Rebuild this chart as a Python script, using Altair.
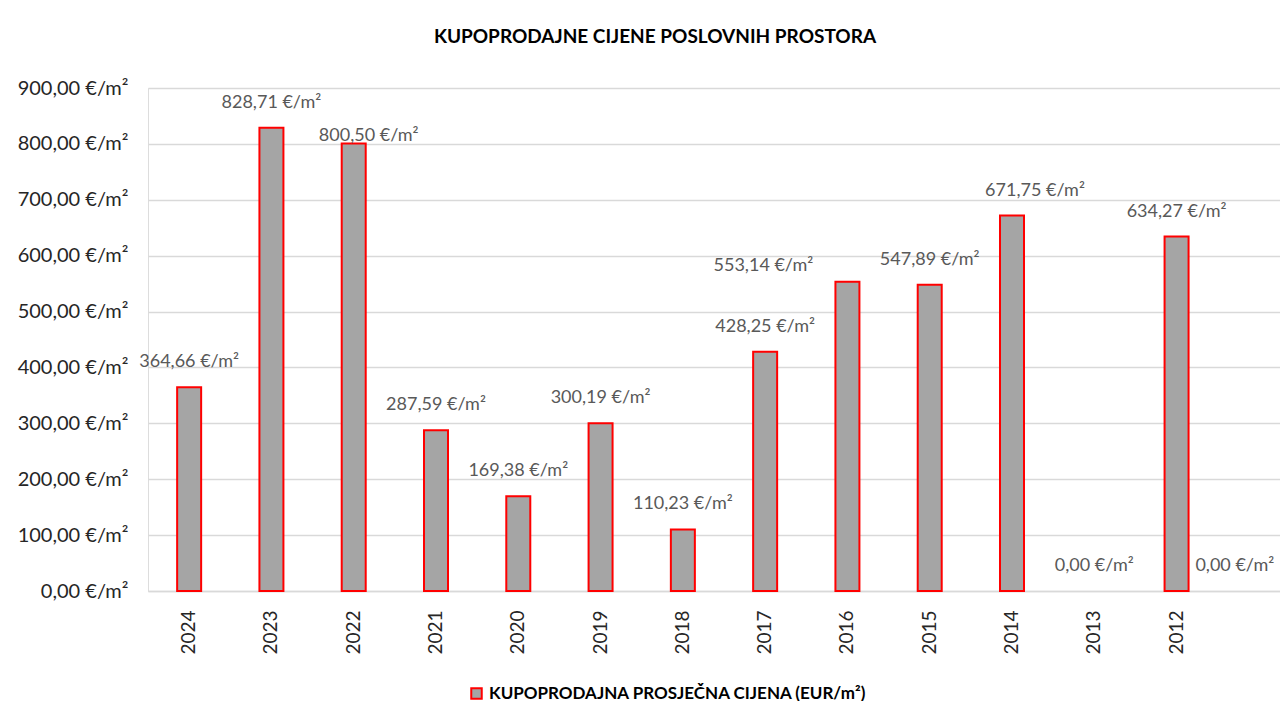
import altair as alt
import pandas as pd

years = ["2024", "2023", "2022", "2021", "2020", "2019", "2018", "2017",
         "2016", "2015", "2014", "2013", "2012", " "]
prices = [364.66, 828.71, 800.50, 287.59, 169.38, 300.19, 110.23, 428.25,
          553.14, 547.89, 671.75, 0.00, 634.27, 0.00]
series_name = "KUPOPRODAJNA PROSJEČNA CIJENA (EUR/m²)"
title_text = "KUPOPRODAJNE CIJENE POSLOVNIH PROSTORA"
y_ticks = [0, 100, 200, 300, 400, 500, 600, 700, 800, 900]

df = pd.DataFrame({"year": years, "price": prices, "series": series_name})

FONT = "Lato"
fmt_expr = "replace(format(datum.price, '.2f'), '.', ',') + ' €/m²'"

x_enc = alt.X("year:N", sort=years,
              scale=alt.Scale(domain=years, paddingInner=0, paddingOuter=0,
                              range=[0, 1152]),
              axis=alt.Axis(title=None, labelAngle=-90, labelFontSize=19,
                            labelColor="#262626", labelPadding=19, ticks=False,
                            domainColor="#d9d9d9", domainWidth=1.5, grid=False,
                            labelFont=FONT))
y_enc = alt.Y("price:Q", scale=alt.Scale(domain=[0, 900], nice=False),
              axis=alt.Axis(title=None, values=y_ticks,
                            labelExpr="replace(format(datum.value, '.2f'), '.', ',') + ' €/m²'",
                            labelFontSize=20, labelColor="#262626", labelPadding=20,
                            ticks=False, domain=False, gridColor="#d9d9d9",
                            gridWidth=1.5, labelFont=FONT))

base = alt.Chart(df)

bars = base.transform_filter("datum.price > 0").mark_bar(
    size=24, stroke="#ff0000", strokeWidth=2).encode(
    x=x_enc, y=y_enc,
    color=alt.Color("series:N", scale=alt.Scale(range=["#a5a5a5"]),
                    legend=alt.Legend(title=None, orient="none", legendX=320,
                                      legendY=597, symbolType="square",
                                      symbolSize=110, symbolStrokeColor="#ff0000",
                                      symbolStrokeWidth=2, labelFontSize=17,
                                      labelFontWeight="bold", labelColor="#000000",
                                      labelFont=FONT, labelLimit=600))
)

def label_layer(filter_expr, dx, dy):
    return base.transform_calculate(lbl=fmt_expr).transform_filter(filter_expr).mark_text(
        fontSize=18, color="#595959", baseline="middle", align="center",
        dx=dx, dy=dy, font=FONT
    ).encode(x=alt.X("year:N", sort=years), y="price:Q", text="lbl:N")

labels_main = label_layer(
    "datum.year != '2022' && datum.year != '2016' && datum.year != '2014' && datum.year != ' '", 0, -25)
labels_2022 = label_layer("datum.year == '2022'", 15, -8)
labels_2016 = label_layer("datum.year == '2016'", -84, -16)
labels_2014 = label_layer("datum.year == '2014'", 23, -25)
labels_last = label_layer("datum.year == ' '", -24, -25)

chart = alt.layer(bars, labels_main, labels_2022, labels_2016, labels_2014, labels_last).properties(
    width=1132, height=503,
    title=alt.TitleParams(title_text, anchor="middle", dx=-59, offset=31,
                          fontSize=19, fontWeight="bold", color="#000000", font=FONT),
    padding={"left": 140, "top": 80, "right": 0, "bottom": 110},
    autosize=alt.AutoSizeParams(type="none"),
).configure_view(stroke=None).configure(background="white")

chart.save("out.html", embed_options={"renderer": "svg", "actions": False})
